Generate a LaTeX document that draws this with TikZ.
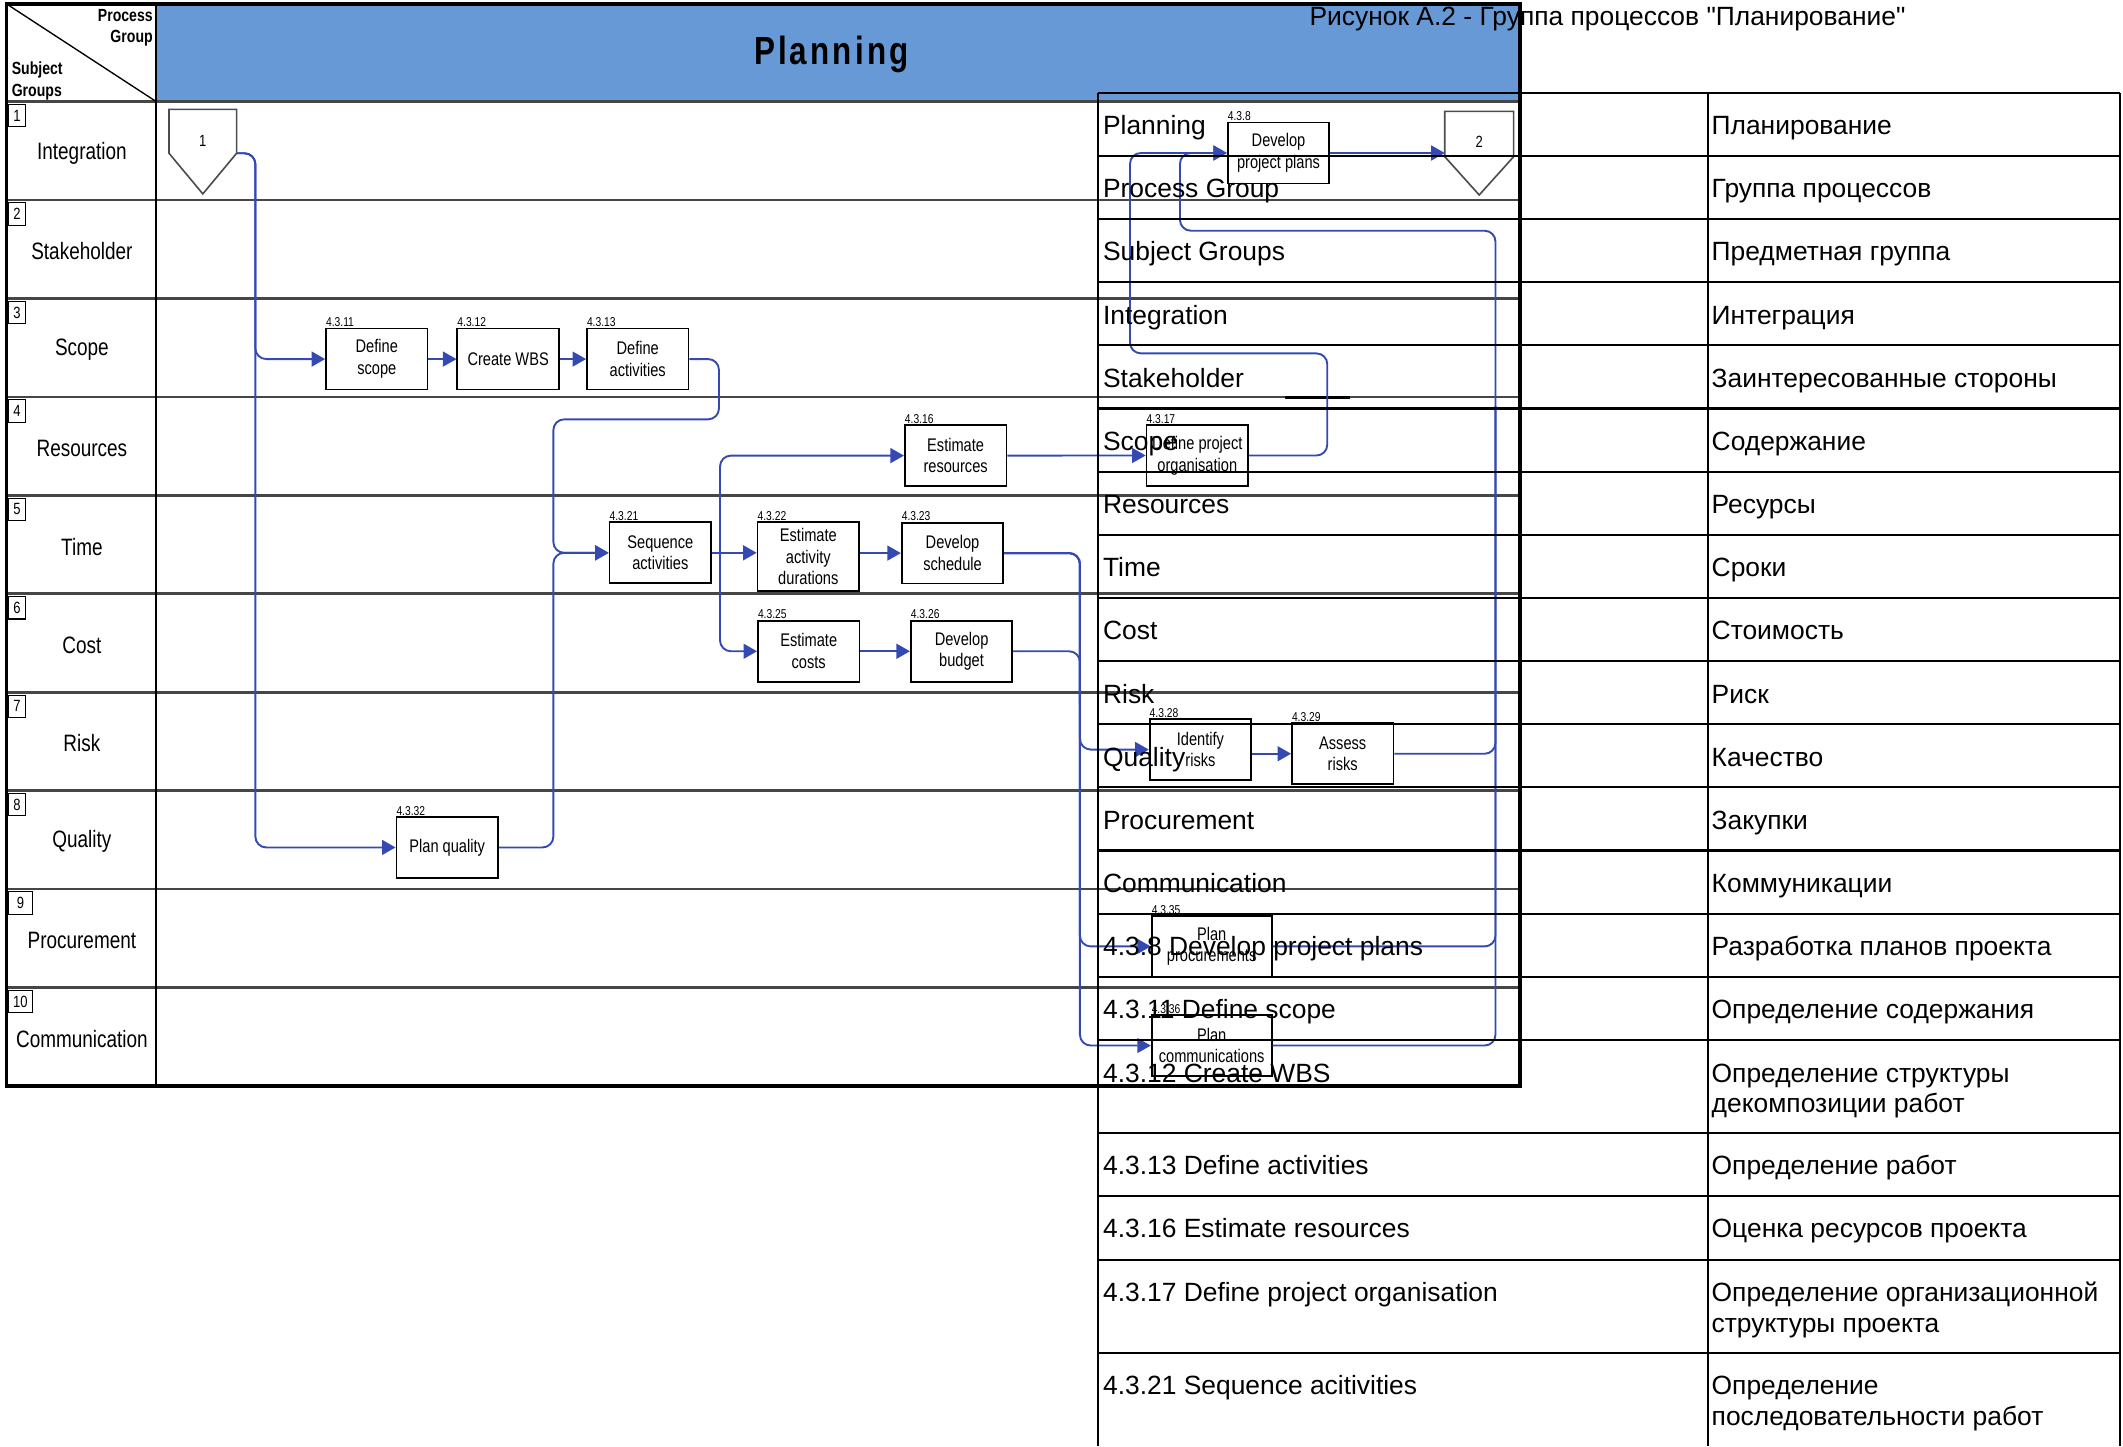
\documentclass[tikz,border=0pt]{standalone}
\usepackage{fontspec}
\setmainfont{Liberation Sans}[Ligatures=TeXOff]
\newfontfamily\narrowfont[FakeStretch=0.8]{Liberation Sans}
\usetikzlibrary{arrows.meta}
\definecolor{headblue}{RGB}{102,153,214}
\definecolor{flowblue}{RGB}{52,74,178}
\definecolor{lanegray}{RGB}{70,70,70}
\newcommand{\twoline}[2]{\begin{tabular}[t]{@{}l@{}}#1\\#2\end{tabular}}
\tikzset{
  proc/.style={draw, line width=1.3pt, fill=white, minimum width=75pt, minimum height=45pt,
    inner sep=1pt, align=center, font=\narrowfont\fontsize{13.5}{16}\selectfont},
  numlbl/.style={anchor=south west, inner sep=0.5pt, font=\narrowfont\fontsize{9.5}{10}\selectfont},
  flow/.style={draw=flowblue, line width=1.4pt, rounded corners=8pt, -{Triangle[length=10pt,width=11pt]}},
  flowline/.style={draw=flowblue, line width=1.4pt, rounded corners=8pt},
  offpg/.style={draw=black!70, line width=1.2pt},
  lane/.style={draw=lanegray, line width=2pt},
  lanelbl/.style={inner sep=0pt, font=\narrowfont\fontsize{17.5}{19}\selectfont},
  numbox/.style={draw, line width=0.8pt, minimum height=16.5pt, inner sep=1pt, font=\narrowfont\fontsize{12}{13}\selectfont},
  tline/.style={draw=black, line width=1.6pt},
  tcell/.style={anchor=base west, inner sep=0pt, font=\fontsize{19.5}{22.5}\selectfont},
}

\begin{document}
\begin{tikzpicture}[x=1pt,y=-1pt]
    \useasboundingbox (0,0) rectangle (1568,1068);
    % swimlane frame
    \fill[headblue] (115.5,3) rectangle (1122.6,75.1);
    \draw[lane] (5,75.1) -- (1122.6,75.1);
    \foreach \i/\lab/\bw in {1/Integration/13,2/Stakeholder/13,3/Scope/13,4/Resources/13,5/Time/13,
        6/Cost/13,7/Risk/13,8/Quality/13,9/Procurement/18,10/Communication/18}
    {
        \draw[lane] (5,{75.1+72.69*\i}) -- (1122.6,{75.1+72.69*\i});
        \node[lanelbl] (lane\i) at (60.5,{75.1+72.69*(\i-0.5)+1.5}) {\lab};
        \node[numbox, minimum width=\bw pt, anchor=north west] (num\i) at (5.7,{75.1+72.69*(\i-1)+1.7}) {\i};
    }
    \draw[line width=1.5pt] (115.5,3) -- (115.5,802);
    \draw[line width=1pt] (5,3) -- (115.5,75.1);
    \draw[line width=2.4pt] (5,3) rectangle (1122.6,802);
    \draw[line width=2.5pt] (949,293.7) -- (997,293.7);
    \node[align=right, anchor=north east, inner sep=0pt, font=\narrowfont\bfseries\fontsize{13}{15.5}\selectfont] (pg) at (113,7) {Process\\Group};
    \node[align=left, anchor=north west, inner sep=0pt, font=\narrowfont\bfseries\fontsize{13}{16}\selectfont] (sg) at (8.5,45.5) {Subject\\Groups};
    \node[anchor=base, inner sep=0pt, font=\narrowfont\bfseries\fontsize{29}{30}\selectfont\addfontfeature{LetterSpace=8}] (head) at (614,48) {Planning};

    % off-page connectors
    \node[minimum width=49.5pt, minimum height=32pt, inner sep=0pt,
        label={[font=\narrowfont\fontsize{12}{13}\selectfont, yshift=-7pt]center:1}] (off1) at (149.8,97) {};
    \draw[offpg] (off1.north west) -- (off1.north east) -- (off1.south east) -- ([yshift=-30pt]off1.south) -- (off1.south west) -- cycle;
    \node[minimum width=50.5pt, minimum height=33pt, inner sep=0pt,
        label={[font=\narrowfont\fontsize{12}{13}\selectfont, yshift=-5.6pt]center:2}] (off2) at (1092.5,99) {};
    \draw[offpg] (off2.north west) -- (off2.north east) -- (off2.south east) -- ([yshift=-28.3pt]off2.south) -- (off2.south west) -- cycle;

    % processes
    \node[proc, label={[numlbl]north west:4.3.11}] (defscope) at (278.3,265.2) {Define\\scope};
    \node[proc, label={[numlbl]north west:4.3.12}] (wbs) at (375.3,265.2) {Create WBS};
    \node[proc, label={[numlbl]north west:4.3.13}] (defact) at (471,265.2) {Define\\activities};
    \node[proc, label={[numlbl]north west:4.3.16}] (estres) at (705.8,336.5) {Estimate\\resources};
    \node[proc, label={[numlbl]north west:4.3.17}] (orgn) at (884.3,336.4) {Define project\\organisation};
    \node[proc, label={[numlbl]north west:4.3.21}] (seqact) at (487.7,408.3) {Sequence\\activities};
    \node[proc, minimum height=50.5pt, label={[numlbl]north west:4.3.22}] (durat) at (597,411) {Estimate\\activity\\durations};
    \node[proc, label={[numlbl]north west:4.3.23}] (sched) at (703.5,408.5) {Develop\\schedule};
    \node[proc, label={[numlbl]north west:4.3.25}] (estcost) at (597.3,481) {Estimate\\costs};
    \node[proc, label={[numlbl]north west:4.3.26}] (budget) at (710.2,481) {Develop\\budget};
    \node[proc, label={[numlbl]north west:4.3.32}] (planqual) at (330.3,625.9) {Plan quality};
    \node[proc, label={[numlbl]north west:4.3.8}] (plans) at (944.3,113) {Develop\\project plans};
    \node[proc, label={[numlbl]north west:4.3.28}] (idrisk) at (886.6,553.6) {Identify\\risks};
    \node[proc, label={[numlbl]north west:4.3.29}] (assrisk) at (991.7,556.7) {Assess\\risks};
    \node[proc, minimum width=88.6pt, label={[numlbl]north west:4.3.35}] (planproc) at (894.9,699) {Plan\\procurements};
    \node[proc, minimum width=88.6pt, label={[numlbl]north west:4.3.36}] (plancomm) at (894.9,772.2) {Plan\\communications};

    % flows
    \draw[flow] (off1.south east) -- ++(13.85,0) |- (defscope);
    \draw[flow] (off1.south east) -- ++(13.85,0) |- (planqual);
    \draw[flow] (defscope) -- (wbs);
    \draw[flow] (wbs) -- (defact);
    \draw[flow] (defact.east) -| (531,309.7) -| (408.7,380) |- (seqact.west);
    \draw[flow] (planqual.east) -| (408.7,430) |- (seqact.west);
    \draw[flow] (seqact.east) -- (seqact.east -| durat.west);
    \draw[flow] (durat.east |- sched.west) -- (sched.west);
    \coordinate (j1) at (531.8,408.5);
    \draw[flow] (j1) |- (estres.west);
    \draw[flow] (j1) |- (estcost.west);
    \draw[flow] (estres) -- (orgn);
    \draw[flow] (estcost) -- (budget);
    \draw[flow] (sched.east) -| (797.6,450) |- (idrisk.west);
    \draw[flow] (sched.east) -| (797.6,600) |- (planproc.west);
    \draw[flow] (sched.east) -| (797.6,700) |- (plancomm.west);
    \draw[flowline] (budget.east) -| (797.6,520);
    \draw[flow] (assrisk.west -| idrisk.east) -- (assrisk.west);
    \draw[flow] (assrisk.east) -| (1104.5,170.4) -| (871.5,140) |- (plans.west);
    \draw[flowline] (planproc.east) -| (1104.5,300);
    \draw[flowline] (plancomm.east) -| (1104.5,300);
    \draw[flow] (orgn.east) -| (980.3,261) -| (834.6,200) |- (plans.west);
    \draw[flow] (plans.east) -- (plans.east -| off2.west);

    % glossary table
    \node[anchor=base west, inner sep=0pt, font=\fontsize{19.5}{21}\selectfont] (title) at (967,18.5) {Рисунок А.2 - Группа процессов "Планирование"};
    \foreach \y in {68.4,115.05,161.7,208.35,255,301.65,348.3,394.95,441.6,488.25,534.9,581.55,628.2,674.85,721.5,768.15,836.5,883.3,930.6,999}
        \draw[tline] (811,\y) -- (1565.5,\y);
    \foreach \x in {811,1261.5,1565.5}
        \draw[tline] (\x,68.4) -- (\x,1068);
    \foreach \y/\en/\ru in {68.4/Planning/Планирование, 115.05/Process Group/Группа процессов,
        161.7/Subject Groups/Предметная группа, 208.35/Integration/Интеграция,
        255/Stakeholder/Заинтересованные стороны, 301.65/Scope/Содержание,
        348.3/Resources/Ресурсы, 394.95/Time/Сроки, 441.6/Cost/Стоимость,
        488.25/Risk/Риск, 534.9/Quality/Качество, 581.55/Procurement/Закупки,
        628.2/Communication/Коммуникации,
        674.85/4.3.8 Develop project plans/Разработка планов проекта,
        721.5/4.3.11 Define scope/Определение содержания,
        768.15/4.3.12 Create WBS/{\twoline{Определение структуры}{декомпозиции работ}},
        836.5/4.3.13 Define activities/Определение работ,
        883.3/4.3.16 Estimate resources/Оценка ресурсов проекта,
        930.6/4.3.17 Define project organisation/{\twoline{Определение организационной}{структуры проекта}},
        999/4.3.21 Sequence acitivities/{\twoline{Определение}{последовательности работ}}}
    {
        \node[tcell] at (814.5,\y+31) {\en};
        \node[tcell] at (1264,\y+31) {\ru};
    }
\end{tikzpicture}
\end{document}
